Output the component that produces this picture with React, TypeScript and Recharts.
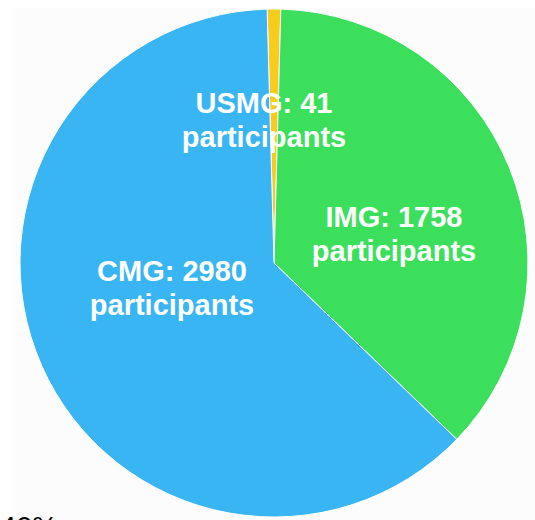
import React from "react";
import { PieChart, Pie, Cell } from "recharts";

const categories = ["USMG", "IMG", "CMG"];
const participants = [41, 1758, 2980];
const colors = ["#F8CB1F", "#3CDF5C", "#38B5F2"];
const unitLabel = "participants";
const cornerNote = "40%";

const data = categories.map((name, i) => ({ name, value: participants[i] }));

// label placement (centre of text block) per slice, in chart pixels
const labelPos: Record<string, { x: number; y: number }> = {
  USMG: { x: 264, y: 113 },
  IMG: { x: 394, y: 227 },
  CMG: { x: 172, y: 281 },
};

const renderLabel = (props: any) => {
  const { index } = props;
  const d = data[index];
  const p = labelPos[d.name];
  return (
    <text
      x={p.x}
      y={p.y}
      fill="#ffffff"
      textAnchor="middle"
      fontFamily="'Liberation Sans', Arial, Helvetica, sans-serif"
      fontWeight="bold"
      fontSize={29}
    >
      <tspan x={p.x} y={p.y}>{`${d.name}: ${d.value}`}</tspan>
      <tspan x={p.x} y={p.y + 34}>{unitLabel}</tspan>
    </text>
  );
};

export default function App() {
  return (
    <div style={{ position: "absolute", left: 0, top: 0, width: 535, height: 520, background: "#ffffff", overflow: "hidden" }}>
      <div style={{ position: "absolute", left: 15, top: 8, width: 520, height: 512, background: "#fcfcfc" }} />
      <div style={{ position: "absolute", left: 0, top: 0 }}>
        <PieChart width={535} height={520} margin={{ top: 0, right: 0, bottom: 0, left: 0 }}>
          <Pie
            data={data}
            dataKey="value"
            nameKey="name"
            cx={274}
            cy={263}
            outerRadius={254}
            innerRadius={0}
            startAngle={91.55}
            endAngle={91.55 - 360}
            stroke="#ffffff"
            strokeWidth={1}
            label={renderLabel}
            labelLine={false}
            isAnimationActive={false}
          >
            {data.map((d, i) => (
              <Cell key={d.name} fill={colors[i]} />
            ))}
          </Pie>
          <text
            x={0}
            y={537}
            fill="#000000"
            fontFamily="'Liberation Sans', Arial, Helvetica, sans-serif"
            fontSize={29}
          >
            {cornerNote}
          </text>
        </PieChart>
      </div>
    </div>
  );
}
